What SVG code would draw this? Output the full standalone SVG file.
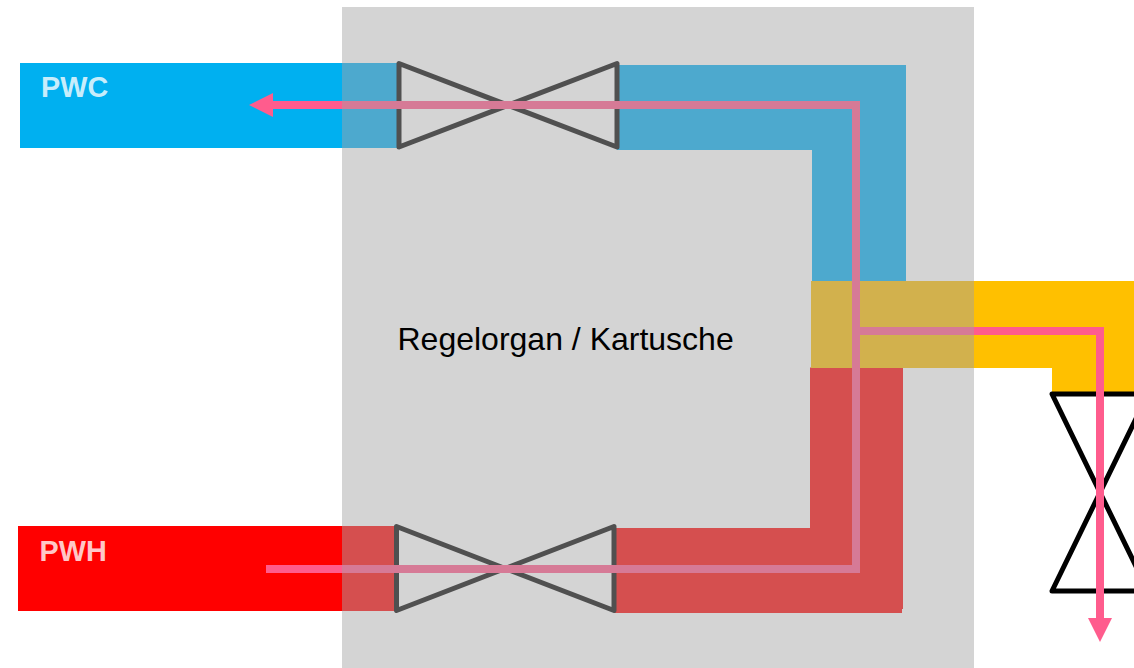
<svg xmlns="http://www.w3.org/2000/svg" width="1134" height="668" viewBox="0 0 1134 668">
<style>
.lbl{font-family:"Liberation Sans",Arial,sans-serif;font-weight:bold;font-size:28.8px;fill:#fff;fill-opacity:.8}
.title{font-family:"Liberation Sans",Arial,sans-serif;font-size:32px;fill:#000}
.valve{fill:none;stroke:#505050;stroke-width:5;stroke-linejoin:round;stroke-linecap:round}
.flow{fill:none;stroke-width:8;stroke-linejoin:miter}
</style>
<defs>
<marker id="h" markerUnits="userSpaceOnUse" markerWidth="24" markerHeight="24" refX="0" refY="12" orient="auto"><path d="M0 0L24 12L0 24Z" fill="#ff5c8d"/></marker>
</defs>
<rect x="0" y="0" width="1134" height="668" fill="#fff"/>
<rect id="housing" x="342" y="7" width="632" height="661" fill="#d4d4d4"/>
<g id="pwc">
<rect x="20" y="63" width="322" height="85" fill="#00b0f0"/>
<path d="M342 63H399V148H342ZM617 65H906V281H812V150H617Z" fill="#4da9ce"/>
<text class="lbl" x="41" y="97">PWC</text>
</g>
<g id="pwh">
<rect x="18" y="526" width="324" height="85" fill="#f00"/>
<path d="M342 526H397V611H342ZM614 528H810V367.500H903V609H902V613H614Z" fill="#d54f4f"/>
<text class="lbl" x="39.500" y="561">PWH</text>
</g>
<g id="mix">
<rect x="811" y="281" width="163" height="87" fill="#d2b14d"/>
<path d="M974 281H1134V392H1052V368H974Z" fill="#ffc000"/>
</g>
<text id="label" class="title" x="397.500" y="350">Regelorgan / Kartusche</text>
<g id="valve-top"><path class="valve" d="M399 63.500V147L617 63.500V147Z"/></g>
<g id="valve-bottom"><path class="valve" d="M396.500 610.500V526.500L614 610.500V526.500Z"/></g>
<g id="valve-out"><path d="M1052 394L1148 591H1052L1148 394Z" fill="none" stroke="#000" stroke-width="5" stroke-linejoin="round"/></g>
<g id="connectors">
<path class="flow" d="M342 105H273" stroke="#ff5c8d" marker-end="url(#h)"/>
<path class="flow" d="M266 569H342" stroke="#ff5c8d"/>
<path class="flow" d="M974 331H1100V618" stroke="#ff5c8d" marker-end="url(#h)"/>
<path class="flow" d="M342 105H856V569H342M856 331H974" stroke="#d67a96"/>
</g>
</svg>
